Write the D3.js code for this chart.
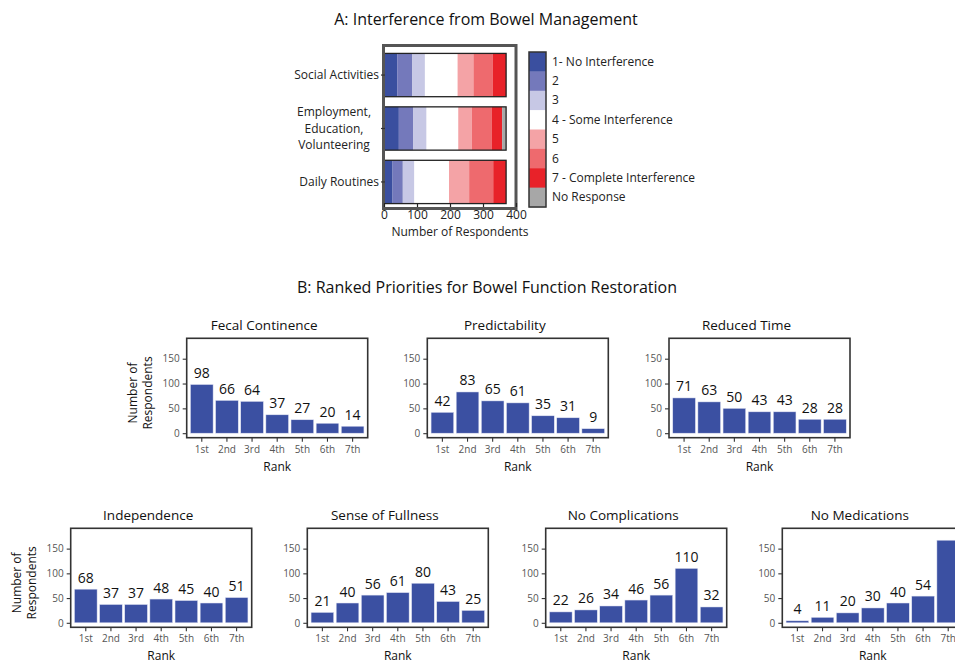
<!DOCTYPE html>
<html>
<head>
<meta charset="utf-8">
<script src="https://cdn.jsdelivr.net/npm/d3@7"></script>
<style>
  html, body { margin: 0; padding: 0; background: #fff; }
  svg { display: block; font-family: "Open Sans", "Noto Sans", sans-serif; }
</style>
</head>
<body>
<svg id="chart" width="955" height="667"></svg>
<script>
// ---- Panel A data: interference ratings per activity ----
const activities = ["Social Activities", "Employment, Education, Volunteering", "Daily Routines"];
const activityLines = [["Social Activities"], ["Employment,", "Education,", "Volunteering"], ["Daily Routines"]];
const levels = ["1- No Interference", "2", "3", "4 - Some Interference", "5", "6", "7 - Complete Interference", "No Response"];
const socialActivities = [40, 46, 38, 99, 48, 58, 41, 0];
const employmentEducation = [45, 44, 40, 96, 41, 61, 31, 12];
const dailyRoutines = [26, 31, 35, 105, 61, 73, 39, 0];
const respondentTicks = [0, 100, 200, 300, 400];

// ---- Panel B data: number of respondents at each rank ----
const ranks = ["1st", "2nd", "3rd", "4th", "5th", "6th", "7th"];
const priorities = ["Fecal Continence", "Predictability", "Reduced Time", "Independence", "Sense of Fullness", "No Complications", "No Medications"];
const fecalContinence = [98, 66, 64, 37, 27, 20, 14];
const predictability = [42, 83, 65, 61, 35, 31, 9];
const reducedTime = [71, 63, 50, 43, 43, 28, 28];
const independence = [68, 37, 37, 48, 45, 40, 51];
const senseOfFullness = [21, 40, 56, 61, 80, 43, 25];
const noComplications = [22, 26, 34, 46, 56, 110, 32];
const noMedications = [4, 11, 20, 30, 40, 54, 167];
const countTicks = [0, 50, 100, 150];

const levelColors = ["#3a4f9f", "#7479bb", "#c7c8e5", "#ffffff", "#f4a3a6", "#ee6a6e", "#e82229", "#a7a7a7"];
const barBlue = "#3b50a2";

const svg = d3.select("#chart");

// ================= Panel A =================
svg.append("text")
  .attr("x", 486).attr("y", 25)
  .attr("text-anchor", "middle")
  .attr("font-size", 16).attr("fill", "#111")
  .text("A: Interference from Bowel Management");

const seriesA = [socialActivities, employmentEducation, dailyRoutines];
const rowsA = activities.map((a, i) => {
  const r = { activity: a };
  levels.forEach((l, j) => r[l] = seriesA[i][j]);
  return r;
});
const stackA = d3.stack().keys(levels)(rowsA);

const xA = d3.scaleLinear().domain([0, 400]).range([384, 516]);
const yA = d3.scaleBand().domain(activities).range([47, 210]).paddingInner(0.19).paddingOuter(0.12);

const gA = svg.append("g");
stackA.forEach((layer, j) => {
  gA.selectAll(null).data(layer).enter().append("rect")
    .attr("x", d => xA(d[0]))
    .attr("y", d => yA(d.data.activity))
    .attr("width", d => Math.max(0, xA(d[1]) - xA(d[0])))
    .attr("height", yA.bandwidth())
    .attr("fill", levelColors[j]);
});
// bar outlines
activities.forEach((a, i) => {
  const total = d3.sum(seriesA[i]);
  gA.append("rect")
    .attr("x", xA(0)).attr("y", yA(a))
    .attr("width", xA(total) - xA(0)).attr("height", yA.bandwidth())
    .attr("fill", "none").attr("stroke", "#222").attr("stroke-width", 1.3);
});
// panel frame
gA.append("rect")
  .attr("x", 383.5).attr("y", 45.5).attr("width", 132.5).attr("height", 163)
  .attr("fill", "none").attr("stroke", "#555").attr("stroke-width", 3);

// bottom axis
const axA = svg.append("g").attr("transform", "translate(0,203)")
  .call(d3.axisBottom(xA).tickValues(respondentTicks).tickSize(4).tickPadding(5));
axA.select(".domain").remove();
axA.selectAll(".tick line").attr("stroke", "#222").attr("stroke-width", 1.2);
axA.selectAll(".tick text").attr("font-size", 12).attr("fill", "#222")
  .attr("font-family", "Open Sans, sans-serif").attr("dy", "0.71em").attr("y", 7.5);
svg.append("text").attr("x", 460).attr("y", 236).attr("text-anchor", "middle")
  .attr("font-size", 12).attr("fill", "#222").text("Number of Respondents");

// left labels and ticks
activities.forEach((a, i) => {
  const cy = yA(a) + yA.bandwidth() / 2;
  svg.append("line").attr("x1", 381).attr("x2", 385).attr("y1", cy).attr("y2", cy)
    .attr("stroke", "#333").attr("stroke-width", 1.2);
  const lines = activityLines[i];
  if (lines.length === 1) {
    svg.append("text").attr("x", 379).attr("y", cy + 4.3)
      .attr("text-anchor", "end").attr("font-size", 12).attr("fill", "#222").text(lines[0]);
  } else {
    lines.forEach((ln, k) => {
      svg.append("text").attr("x", 334).attr("y", cy + 4.3 + (k - 1) * 16.4)
        .attr("text-anchor", "middle").attr("font-size", 12).attr("fill", "#222").text(ln);
    });
  }
});

// legend
const legY = d3.scaleBand().domain(levels).range([52, 207]);
const gLeg = svg.append("g");
levels.forEach((l, j) => {
  gLeg.append("rect").attr("x", 529).attr("y", legY(l))
    .attr("width", 17).attr("height", legY.bandwidth() + 0.5)
    .attr("fill", levelColors[j]);
  gLeg.append("text").attr("x", 552).attr("y", legY(l) + legY.bandwidth() / 2 + 4)
    .attr("font-size", 12).attr("fill", "#222").text(l);
});
gLeg.append("rect").attr("x", 529).attr("y", 52).attr("width", 17).attr("height", 155)
  .attr("fill", "none").attr("stroke", "#333").attr("stroke-width", 1.5);

// ================= Panel B =================
svg.append("text")
  .attr("x", 487).attr("y", 293)
  .attr("text-anchor", "middle")
  .attr("font-size", 16).attr("fill", "#111")
  .text("B: Ranked Priorities for Bowel Function Restoration");

const seriesB = [fecalContinence, predictability, reducedTime, independence, senseOfFullness, noComplications, noMedications];
const panelW = 181;
const layoutB = [
  { left: 186.7, top: 338.3, bottom: 437.7, yTitle: true },
  { left: 427.3, top: 338.3, bottom: 437.7, yTitle: false },
  { left: 669.0, top: 338.3, bottom: 437.7, yTitle: false },
  { left: 70.7, top: 528.3, bottom: 627.3, yTitle: true },
  { left: 307.3, top: 528.3, bottom: 627.3, yTitle: false },
  { left: 545.7, top: 528.3, bottom: 627.3, yTitle: false },
  { left: 782.3, top: 528.3, bottom: 627.3, yTitle: false }
];
const labelFont = 14;

priorities.forEach((name, i) => {
  const L = layoutB[i];
  const vals = seriesB[i];
  const right = L.left + panelW;
  const x = d3.scaleBand().domain(ranks).range([L.left, right]).paddingInner(0.1).paddingOuter(0.15);
  const y = d3.scaleLinear().domain([-9.1, 191.1]).range([L.bottom, L.top]);
  const g = svg.append("g");

  const clipId = "clip" + i;
  svg.append("clipPath").attr("id", clipId).append("rect")
    .attr("x", L.left).attr("y", L.top).attr("width", panelW).attr("height", L.bottom - L.top);

  const plot = g.append("g").attr("clip-path", `url(#${clipId})`);
  plot.selectAll("rect").data(vals).enter().append("rect")
    .attr("x", (d, k) => x(ranks[k]))
    .attr("y", d => y(d))
    .attr("width", x.bandwidth())
    .attr("height", d => y(0) - y(d))
    .attr("fill", barBlue)
    .attr("stroke", "#dfe2f2").attr("stroke-width", 0.5);

  // value labels, only where the label fits inside the panel
  const labelled = vals.map((v, k) => ({ v, k })).filter(d => y(d.v) - 6.5 - labelFont * 0.75 > L.top);
  plot.selectAll("text").data(labelled).enter().append("text")
    .attr("x", d => x(ranks[d.k]) + x.bandwidth() / 2)
    .attr("y", d => y(d.v) - 6.5)
    .attr("text-anchor", "middle")
    .attr("font-size", labelFont).attr("fill", "#111")
    .text(d => d.v);

  // frame
  g.append("rect").attr("x", L.left).attr("y", L.top).attr("width", panelW).attr("height", L.bottom - L.top)
    .attr("fill", "none").attr("stroke", "#333").attr("stroke-width", 1.6);

  // axes
  const ax = g.append("g").attr("transform", `translate(0,${L.bottom})`)
    .call(d3.axisBottom(x).tickSize(4).tickPadding(4));
  ax.select(".domain").remove();
  ax.selectAll(".tick line").attr("stroke", "#333").attr("stroke-width", 1.1);
  ax.selectAll(".tick text").attr("font-size", 10).attr("fill", "#555")
    .attr("font-family", "Open Sans, sans-serif").attr("y", 8).attr("dy", "0.71em");

  const ay = g.append("g").attr("transform", `translate(${L.left},0)`)
    .call(d3.axisLeft(y).tickValues(countTicks).tickSize(4).tickPadding(3));
  ay.select(".domain").remove();
  ay.selectAll(".tick line").attr("stroke", "#333").attr("stroke-width", 1.1);
  ay.selectAll(".tick text").attr("font-size", 10).attr("fill", "#555")
    .attr("font-family", "Open Sans, sans-serif");

  g.append("text").attr("x", (L.left + right) / 2).attr("y", L.bottom + 33)
    .attr("text-anchor", "middle").attr("font-size", 12).attr("fill", "#111").text("Rank");

  g.append("text").attr("x", (L.left + right) / 2 - 13).attr("y", L.top - 8)
    .attr("text-anchor", "middle").attr("font-size", 13.5).attr("fill", "#111").text(name);

  if (L.yTitle) {
    const cy = (L.top + L.bottom) / 2 + 5;
    const t = g.append("text").attr("transform", `translate(${L.left - 50},${cy}) rotate(-90)`)
      .attr("text-anchor", "middle").attr("font-size", 12).attr("fill", "#111");
    t.append("tspan").attr("x", 0).attr("dy", 0).text("Number of");
    t.append("tspan").attr("x", 0).attr("dy", 15).text("Respondents");
  }
});
</script>
</body>
</html>
